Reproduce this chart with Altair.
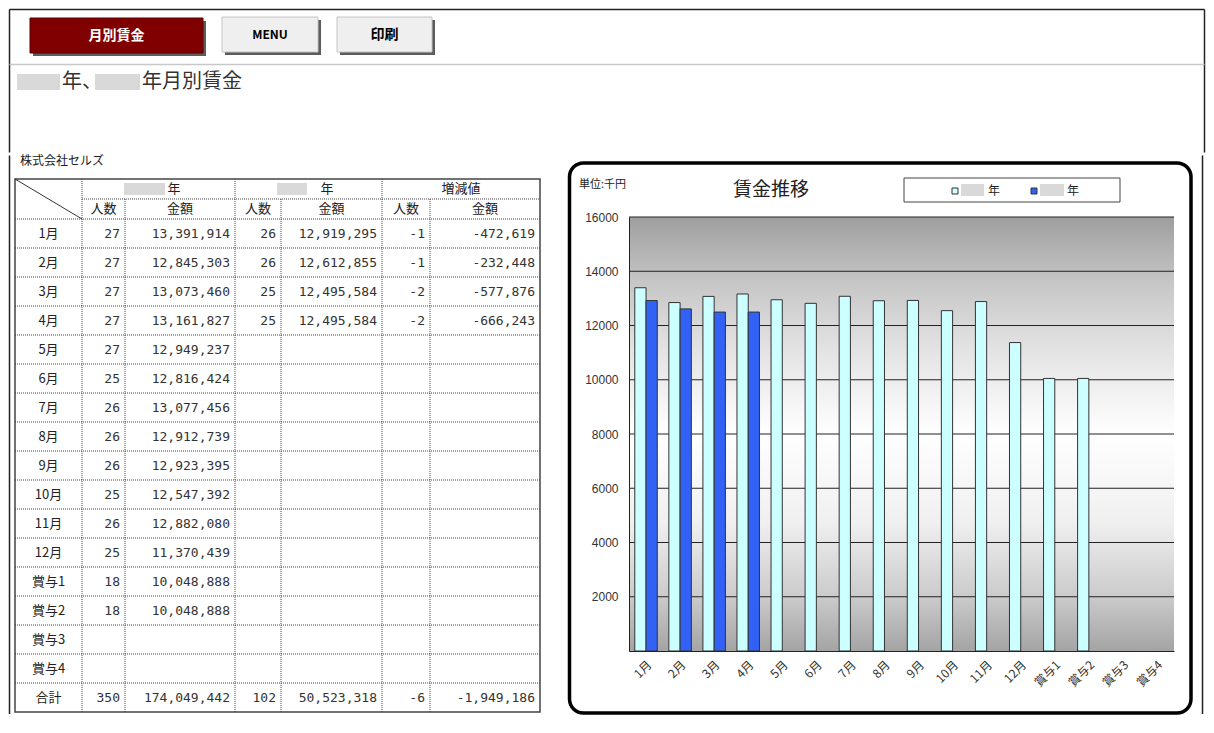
import altair as alt
import pandas as pd

# ---------------- data ----------------
labels = ["1月", "2月", "3月", "4月", "5月", "6月", "7月", "8月", "9月", "10月", "11月", "12月",
          "賞与1", "賞与2", "賞与3", "賞与4"]
count_prev = [27, 27, 27, 27, 27, 25, 26, 26, 26, 25, 26, 25, 18, 18, None, None]
amount_prev = [13391914, 12845303, 13073460, 13161827, 12949237, 12816424, 13077456, 12912739,
               12923395, 12547392, 12882080, 11370439, 10048888, 10048888, None, None]
count_curr = [26, 26, 25, 25] + [None] * 12
amount_curr = [12919295, 12612855, 12495584, 12495584] + [None] * 12
diff_count = [-1, -1, -2, -2] + [None] * 12
diff_amount = [-472619, -232448, -577876, -666243] + [None] * 12
total_label = "合計"
series = ["前年", "当年"]
y_ticks = [2000, 4000, 6000, 8000, 10000, 12000, 14000, 16000]

FONT_JP = "Noto Sans CJK JP"
FONT_NUM = "DejaVu Sans Mono"
ONE = pd.DataFrame({"k": [0]})


def rect_enc(ch):
    return ch.encode(
        x=alt.X("x:Q", scale=None, axis=None), x2="x2:Q",
        y=alt.Y("y:Q", scale=None, axis=None), y2="y2:Q")


def rule_enc(ch):
    return ch.encode(
        x=alt.X("x:Q", scale=None, axis=None), x2="x2:Q",
        y=alt.Y("y:Q", scale=None, axis=None), y2="y2:Q")


def text_enc(ch):
    return ch.encode(
        x=alt.X("x:Q", scale=None, axis=None),
        y=alt.Y("y:Q", scale=None, axis=None),
        text="t:N")


# ---------------- header (buttons + title) ----------------
HW, HH = 1198, 146
FW = 1.5  # frame stroke width (stroke widens the layout bounds by FW on each side)
btns = pd.DataFrame([
    dict(x=22, x2=195, y=10, y2=45, fill="#800000", stroke="#5a0000"),
    dict(x=214, x2=310, y=9, y2=44, fill="#efefef", stroke="#c4c4c4"),
    dict(x=329, x2=424, y=9, y2=44, fill="#efefef", stroke="#c4c4c4"),
])
shadows = btns.assign(x=btns.x + 3, x2=btns.x2 + 3, y=btns.y + 3, y2=btns.y2 + 3)
btn_text = pd.DataFrame([
    dict(x=108.5, y=27.5, t="月別賃金", c="#ffffff", s=14),
    dict(x=262, y=26.5, t="MENU", c="#000000", s=12),
    dict(x=376.5, y=26.5, t="印刷", c="#000000", s=14),
])
frame_h = pd.DataFrame([
    dict(x=FW, x2=FW, y=FW, y2=HH - FW),
    dict(x=FW, x2=HW - FW, y=FW, y2=FW),
    dict(x=HW - FW, x2=HW - FW, y=FW, y2=HH - FW),
])
sep = pd.DataFrame([dict(x=FW, x2=HW - FW, y=56.5, y2=56.5)])
title_boxes = pd.DataFrame([dict(x=9, x2=52, y=66, y2=82), dict(x=87, x2=132, y=66, y2=82)])
title_text = pd.DataFrame([dict(x=54, y=74, t="年、"), dict(x=134, y=74, t="年月別賃金")])

header = alt.layer(
    rule_enc(alt.Chart(frame_h).mark_rule(color="#222", strokeWidth=FW)),
    rule_enc(alt.Chart(sep).mark_rule(color="#c8c8c8", strokeWidth=1.5)),
    rect_enc(alt.Chart(shadows).mark_rect(color="#5c5c5c")),
    rect_enc(alt.Chart(btns).mark_rect(strokeWidth=1)).encode(
        fill=alt.Fill("fill:N", scale=None), stroke=alt.Stroke("stroke:N", scale=None)),
    text_enc(alt.Chart(btn_text).mark_text(font=FONT_JP, fontWeight="bold", baseline="middle")).encode(
        color=alt.Color("c:N", scale=None), size=alt.Size("s:Q", scale=None)),
    rect_enc(alt.Chart(title_boxes).mark_rect(color="#d9d9d9")),
    text_enc(alt.Chart(title_text).mark_text(font=FONT_JP, fontSize=20, align="left",
                                             baseline="middle", color="#333333")),
).properties(width=HW, height=HH)

# ---------------- table ----------------
# table origin is aligned with the bar chart's plot origin (page y 217)
TW, TH = 559, 434
OFF = -63
CE = [7, 74, 117, 227, 273, 374, 422, 532]
TOP, H1, RH = 25 + OFF, 20, 29
DT = TOP + 2 * H1
cols_vals = [count_prev, amount_prev, count_curr, amount_curr, diff_count, diff_amount]
totals = [sum(v for v in col if v is not None) for col in cols_vals]
rows = labels + [total_label]

center_cells, right_cells = [], []
for i, lab in enumerate(rows):
    yc = DT + RH * i + RH / 2
    center_cells.append(dict(x=(CE[0] + CE[1]) / 2, y=yc, t=lab))
    for j, col in enumerate(cols_vals):
        v = col[i] if i < len(labels) else totals[j]
        if v is not None:
            right_cells.append(dict(x=CE[j + 2] - 5, y=yc, t=f"{v:,}"))

hdr_cells = [dict(x=166, y=TOP + H1 / 2, t="年"), dict(x=319, y=TOP + H1 / 2, t="年"),
             dict(x=(CE[5] + CE[7]) / 2, y=TOP + H1 / 2, t="増減値")]
for k in range(1, 7):
    hdr_cells.append(dict(x=(CE[k] + CE[k + 1]) / 2, y=TOP + H1 + H1 / 2,
                          t="人数" if k % 2 == 1 else "金額"))
hdr_boxes = pd.DataFrame([dict(x=116, x2=157, y=TOP + 4, y2=TOP + 16),
                          dict(x=269, x2=299, y=TOP + 4, y2=TOP + 16)])

BOT = DT + RH * len(rows)
dotted = [dict(x=CE[1], x2=CE[7], y=TOP + H1, y2=TOP + H1)]
for k in range(len(rows)):
    dotted.append(dict(x=CE[0], x2=CE[7], y=DT + RH * k, y2=DT + RH * k))
for xe in (CE[1], CE[3], CE[5]):
    dotted.append(dict(x=xe, x2=xe, y=TOP, y2=BOT))
for xe in (CE[2], CE[4], CE[6]):
    dotted.append(dict(x=xe, x2=xe, y=TOP + H1, y2=BOT))
border = pd.DataFrame([dict(x=CE[0], x2=CE[7], y=TOP, y2=BOT)])
diag = pd.DataFrame([dict(x=CE[0], x2=CE[1], y=TOP, y2=DT)])
frame_t = pd.DataFrame([dict(x=FW, x2=FW, y=OFF + FW, y2=497)])
company = pd.DataFrame([dict(x=12, y=7 + OFF, t="株式会社セルズ")])

table = alt.layer(
    rule_enc(alt.Chart(frame_t).mark_rule(color="#222", strokeWidth=FW)),
    rule_enc(alt.Chart(pd.DataFrame(dotted)).mark_rule(color="#444", strokeWidth=1, strokeDash=[1, 1])),
    rect_enc(alt.Chart(border).mark_rect(fillOpacity=0, stroke="#444", strokeWidth=1.5)),
    rule_enc(alt.Chart(diag).mark_rule(color="#333", strokeWidth=1)),
    rect_enc(alt.Chart(hdr_boxes).mark_rect(color="#d9d9d9")),
    text_enc(alt.Chart(company).mark_text(font=FONT_JP, fontSize=12, align="left",
                                          baseline="middle", color="#222")),
    text_enc(alt.Chart(pd.DataFrame(hdr_cells)).mark_text(font=FONT_JP, fontSize=13,
                                                          baseline="middle", color="#222")),
    text_enc(alt.Chart(pd.DataFrame(center_cells)).mark_text(font=FONT_JP, fontSize=13,
                                                             baseline="middle", color="#222")),
    text_enc(alt.Chart(pd.DataFrame(right_cells)).mark_text(font=FONT_NUM, fontSize=13, align="right",
                                                            baseline="middle", color="#333")),
).properties(width=TW, height=TH)

# ---------------- bar chart ----------------
PW, PH = 545, 434
bar_rows = []
for i, lab in enumerate(labels):
    for s, arr in zip(series, [amount_prev, amount_curr]):
        bar_rows.append(dict(cat=lab, series=s,
                             value=None if arr[i] is None else arr[i] / 1000))
bar_df = pd.DataFrame(bar_rows)
grid_df = pd.DataFrame({"value": y_ticks})

yscale = alt.Scale(domain=[0, 16000], nice=False, zero=True)
yaxis = alt.Axis(values=y_ticks, format="d", grid=False, ticks=False, domainColor="#222",
                 labelPadding=11, labelFont="Liberation Sans", labelFontSize=12,
                 labelColor="#333", title=None, zindex=1)
xaxis = alt.Axis(labelAngle=-45, labelFont=FONT_JP, labelFontSize=12, labelColor="#333",
                 ticks=False, domainColor="#222", labelPadding=8, title=None, zindex=1)

gradient = alt.LinearGradient(
    gradient="linear", x1=0, x2=0, y1=0, y2=1,
    stops=[alt.GradientStop(offset=0, color="#9e9e9e"),
           alt.GradientStop(offset=0.15, color="#c6c6c6"),
           alt.GradientStop(offset=0.3, color="#e2e2e2"),
           alt.GradientStop(offset=0.5, color="#ffffff"),
           alt.GradientStop(offset=0.7, color="#f0f0f0"),
           alt.GradientStop(offset=0.87, color="#cccccc"),
           alt.GradientStop(offset=1, color="#a4a4a4")])

BW = 3.5  # rounded box stroke width
frame_r = alt.Chart(ONE).mark_rule(color="#222", strokeWidth=FW).encode(
    x=alt.value(575 - FW), y=alt.value(-63 + FW), y2=alt.value(497))
box = alt.Chart(ONE).mark_rect(cornerRadius=14, fillOpacity=0, stroke="#000",
                               strokeWidth=BW).encode(
    x=alt.value(-63 + BW), x2=alt.value(562), y=alt.value(-54), y2=alt.value(496))
bg = alt.Chart(ONE).mark_rect(fill=gradient).encode(
    x=alt.value(0), x2=alt.value(PW), y=alt.value(0), y2=alt.value(PH))
grid = alt.Chart(grid_df).mark_rule(color="#222", strokeWidth=1).encode(
    y=alt.Y("value:Q", scale=yscale, axis=yaxis), x=alt.value(0), x2=alt.value(PW))
# the legend is placed by the top-level concat, in coordinates of the whole chart
bars = alt.Chart(bar_df).mark_bar(stroke="#333", strokeWidth=1).encode(
    x=alt.X("cat:N", sort=labels,
            scale=alt.Scale(domain=labels, paddingInner=0.34, paddingOuter=0.17), axis=xaxis),
    xOffset=alt.XOffset("series:N", sort=series,
                        scale=alt.Scale(domain=series, paddingInner=0, paddingOuter=0)),
    y=alt.Y("value:Q", scale=yscale, axis=yaxis),
    color=alt.Color("series:N", scale=alt.Scale(domain=series, range=["#ccffff", "#3262f5"]),
                    legend=alt.Legend(orient="none", legendX=941, legendY=177, direction="horizontal",
                                      title=None, symbolType="square", symbolSize=36,
                                      symbolStrokeColor="#333", symbolStrokeWidth=1,
                                      labelExpr="'年'", labelFont=FONT_JP, labelFontSize=12,
                                      labelColor="#222", labelOffset=27, columnPadding=27)),
)
chart_title = alt.Chart(ONE).mark_text(text="賃金推移", font=FONT_JP, fontSize=19,
                                       baseline="middle", color="#222").encode(
    x=alt.value(142), y=alt.value(-27))
unit = alt.Chart(ONE).mark_text(text="単位:千円", font=FONT_JP, fontSize=11, align="left",
                                baseline="middle", color="#222").encode(
    x=alt.value(-50), y=alt.value(-32))
legend_box = alt.Chart(ONE).mark_rect(fill="#ffffff", stroke="#444", strokeWidth=1).encode(
    x=alt.value(275), x2=alt.value(491), y=alt.value(-39), y2=alt.value(-15))
leg_gray1 = alt.Chart(ONE).mark_rect(color="#d9d9d9").encode(
    x=alt.value(332), x2=alt.value(355), y=alt.value(-33), y2=alt.value(-21))
leg_gray2 = alt.Chart(ONE).mark_rect(color="#d9d9d9").encode(
    x=alt.value(411), x2=alt.value(435), y=alt.value(-33), y2=alt.value(-21))

wage_chart = alt.layer(
    frame_r, box, bg, grid, bars, chart_title, unit, legend_box, leg_gray1, leg_gray2
).properties(width=PW, height=PH)

row = alt.hconcat(table, wage_chart, spacing=0)
chart = alt.vconcat(header, row, spacing=0).properties(
    padding=0, background="#ffffff").configure_view(strokeWidth=0, strokeOpacity=0)

chart.save("out.html", embed_options={"renderer": "svg", "actions": False})
